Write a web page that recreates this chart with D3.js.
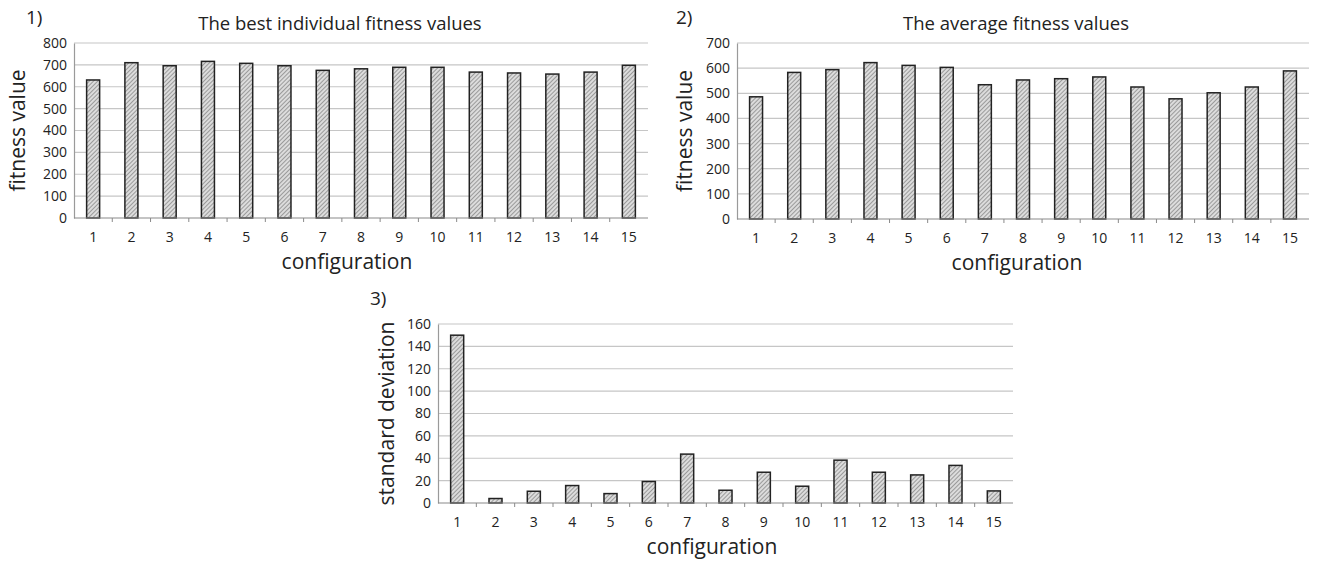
<!DOCTYPE html>
<html>
<head>
<meta charset="utf-8">
<script src="https://cdn.jsdelivr.net/npm/d3@7"></script>
<style>
  body { margin: 0; background: #fff; }
  text { font-family: "Open Sans", "DejaVu Sans", sans-serif; fill: #222; }
</style>
</head>
<body>
<svg id="chart" width="1322" height="563"></svg>
<script>
const configurations = ['1', '2', '3', '4', '5', '6', '7', '8', '9', '10', '11', '12', '13', '14', '15'];

const bestFitness = [631, 710, 696, 716, 707, 696, 675, 682, 689, 689, 667, 663, 658, 667, 698];
const averageFitness = [486, 583, 594, 622, 611, 603, 534, 553, 558, 565, 525, 478, 502, 525, 589];
const stdDeviation = [150, 4, 10.5, 15.6, 8.4, 19.2, 43.7, 11.4, 27.5, 15, 38.3, 27.5, 25.1, 33.6, 10.8];

const bestTicks = [0, 100, 200, 300, 400, 500, 600, 700, 800];
const avgTicks = [0, 100, 200, 300, 400, 500, 600, 700];
const stdTicks = [0, 20, 40, 60, 80, 100, 120, 140, 160];

const svg = d3.select('#chart');

// hatch fill like the original bars
const defs = svg.append('defs');
const pat = defs.append('pattern')
    .attr('id', 'hatch')
    .attr('patternUnits', 'userSpaceOnUse')
    .attr('width', 3).attr('height', 3)
    .attr('patternTransform', 'rotate(45)');
pat.append('rect').attr('width', 3).attr('height', 3).attr('fill', '#dcdcdc');
pat.append('rect').attr('width', 1).attr('height', 3).attr('fill', '#9a9a9a');

function drawChart(opt) {
    const x = d3.scaleBand().domain(configurations).range([opt.left, opt.right]).padding(0);
    const y = d3.scaleLinear().domain([0, d3.max(opt.ticks)]).range([opt.bottom, opt.top]);
    const g = svg.append('g');

    // gridlines
    g.selectAll('line.grid')
        .data(opt.ticks.slice(1))
        .join('line')
        .attr('class', 'grid')
        .attr('x1', opt.left).attr('x2', opt.right)
        .attr('y1', d => y(d)).attr('y2', d => y(d))
        .attr('stroke', '#c6c6c6').attr('stroke-width', 1.2);

    // y axis
    const yAxis = d3.axisLeft(y).tickValues(opt.ticks).tickSize(0).tickPadding(7);
    const ya = g.append('g').attr('transform', `translate(${opt.left},0)`).call(yAxis);
    ya.select('.domain').attr('stroke', '#9a9a9a').attr('stroke-width', 1.2);
    ya.selectAll('text').style('font-size', '14px').style('font-family', '"Open Sans", sans-serif').attr('fill', '#222');

    // bars
    const bw = x.bandwidth() * 0.34;
    g.selectAll('rect.bar')
        .data(opt.values)
        .join('rect')
        .attr('class', 'bar')
        .attr('x', (d, i) => x(configurations[i]) + (x.bandwidth() - bw) / 2)
        .attr('y', d => y(d))
        .attr('width', bw)
        .attr('height', d => y(0) - y(d))
        .attr('fill', 'url(#hatch)')
        .attr('stroke', '#222')
        .attr('stroke-width', 1.5);

    // x axis, Excel style ticks between categories
    g.append('line')
        .attr('x1', opt.left).attr('x2', opt.right)
        .attr('y1', y(0)).attr('y2', y(0))
        .attr('stroke', '#8a8a8a').attr('stroke-width', 1.2);
    g.selectAll('line.xtick')
        .data(configurations.slice(1))
        .join('line')
        .attr('class', 'xtick')
        .attr('x1', d => x(d)).attr('x2', d => x(d))
        .attr('y1', y(0)).attr('y2', y(0) + 4)
        .attr('stroke', '#8a8a8a');
    g.selectAll('text.xlab')
        .data(configurations)
        .join('text')
        .attr('class', 'xlab')
        .attr('x', d => x(d) + x.bandwidth() / 2)
        .attr('y', y(0) + 24)
        .attr('text-anchor', 'middle')
        .style('font-size', '14px')
        .text(d => d);

    // labels
    if (opt.title) {
        g.append('text')
            .attr('x', (opt.left + opt.right) / 2 + opt.titleShift)
            .attr('y', opt.top - 13)
            .attr('text-anchor', 'middle')
            .style('font-size', '18.5px')
            .text(opt.title);
    }
    g.append('text')
        .attr('x', opt.numX).attr('y', opt.numY)
        .style('font-size', '19px')
        .text(opt.num);
    g.append('text')
        .attr('transform', `translate(${opt.yTitleX},${(opt.top + opt.bottom) / 2}) rotate(-90)`)
        .attr('text-anchor', 'middle')
        .style('font-size', '21px')
        .text(opt.yTitle);
    g.append('text')
        .attr('x', opt.xTitleX)
        .attr('y', y(0) + 51)
        .attr('text-anchor', 'middle')
        .style('font-size', '21px')
        .text('configuration');
}

drawChart({
    values: bestFitness, ticks: bestTicks,
    left: 74, right: 648, top: 43, bottom: 218,
    title: 'The best individual fitness values', titleShift: -21,
    num: '1)', numX: 26, numY: 24,
    yTitleX: 25, yTitle: 'fitness value',
    xTitleX: 347
});

drawChart({
    values: averageFitness, ticks: avgTicks,
    left: 737, right: 1309, top: 43, bottom: 219,
    title: 'The average fitness values', titleShift: -7,
    num: '2)', numX: 676, numY: 24,
    yTitleX: 692, yTitle: 'fitness value',
    xTitleX: 1017
});

drawChart({
    values: stdDeviation, ticks: stdTicks,
    left: 438, right: 1013, top: 324, bottom: 503,
    title: null,
    num: '3)', numX: 370, numY: 305,
    yTitleX: 394, yTitle: 'standard deviation',
    xTitleX: 712
});
</script>
</body>
</html>
